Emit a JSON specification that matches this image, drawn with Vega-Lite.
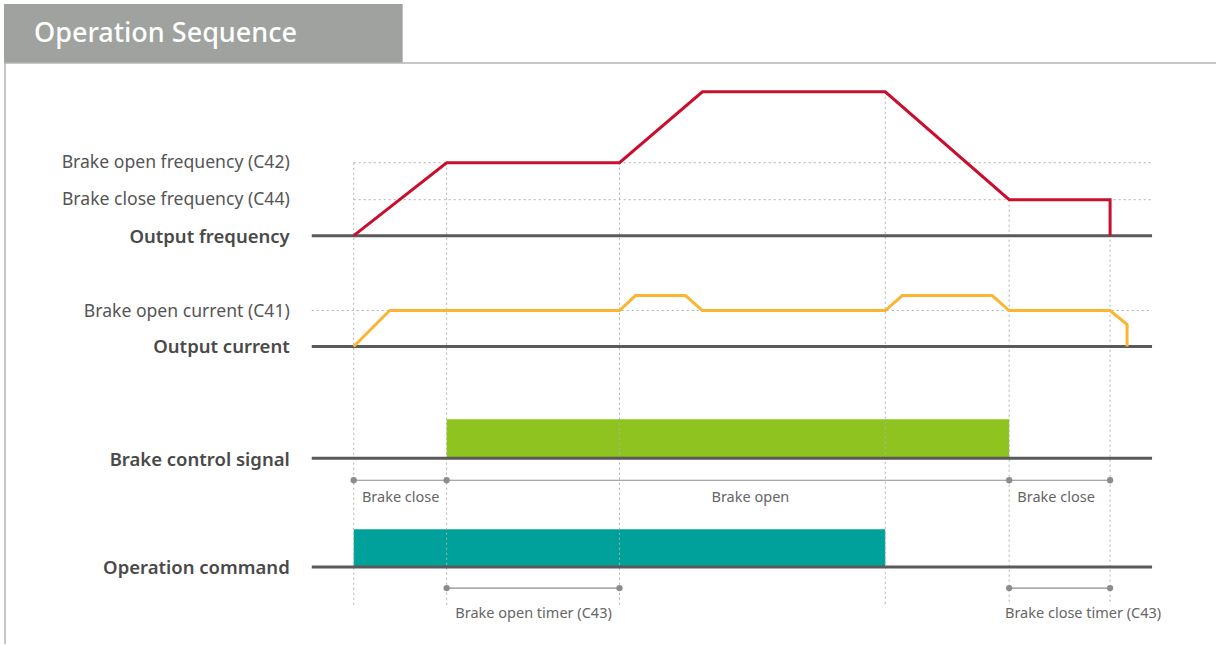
{
  "$schema": "https://vega.github.io/schema/vega-lite/v6.json",
  "width": 1217,
  "height": 645,
  "autosize": {"type": "fit", "contains": "padding"},
  "padding": 0,
  "background": "white",
  "view": {"stroke": null},
  "config": {"axis": {"disable": true}},
  "datasets": {
    "rects": [
      {"name": "header", "x": 4, "x2": 403, "y": 4, "y2": 63, "c": "#a0a2a0"},
      {"name": "Brake control signal", "x": 447, "x2": 1010, "y": 420, "y2": 458, "c": "#8fc31f"},
      {"name": "Operation command", "x": 354, "x2": 886, "y": 530, "y2": 567, "c": "#00a19a"}
    ],
    "frame": [
      {"x": 4, "x2": 1217, "y": 63, "y2": 63},
      {"x": 5, "x2": 5, "y": 63, "y2": 645}
    ],
    "vdots": [
      {"x": 354, "y": 163, "y2": 606},
      {"x": 447, "y": 163, "y2": 606},
      {"x": 620, "y": 163, "y2": 606},
      {"x": 886, "y": 92, "y2": 606},
      {"x": 1010, "y": 200, "y2": 606},
      {"x": 1111, "y": 200, "y2": 606}
    ],
    "hdots": [
      {"x": 354, "x2": 1153, "y": 163},
      {"x": 354, "x2": 1153, "y": 200},
      {"x": 312, "x2": 1153, "y": 311}
    ],
    "baselines": [
      {"name": "Output frequency", "x": 312, "x2": 1153, "y": 236},
      {"name": "Output current", "x": 312, "x2": 1153, "y": 347},
      {"name": "Brake control signal", "x": 312, "x2": 1153, "y": 459},
      {"name": "Operation command", "x": 312, "x2": 1153, "y": 568}
    ],
    "freq": [
      {"i": 0, "x": 354, "y": 236},
      {"i": 1, "x": 447, "y": 163},
      {"i": 2, "x": 620, "y": 163},
      {"i": 3, "x": 703, "y": 92},
      {"i": 4, "x": 886, "y": 92},
      {"i": 5, "x": 1010, "y": 200},
      {"i": 6, "x": 1111, "y": 200},
      {"i": 7, "x": 1111, "y": 236}
    ],
    "current": [
      {"i": 0, "x": 354, "y": 347},
      {"i": 1, "x": 390, "y": 311},
      {"i": 2, "x": 620, "y": 311},
      {"i": 3, "x": 636, "y": 296},
      {"i": 4, "x": 686, "y": 296},
      {"i": 5, "x": 703, "y": 311},
      {"i": 6, "x": 886, "y": 311},
      {"i": 7, "x": 903, "y": 296},
      {"i": 8, "x": 993, "y": 296},
      {"i": 9, "x": 1010, "y": 311},
      {"i": 10, "x": 1111, "y": 311},
      {"i": 11, "x": 1128, "y": 325},
      {"i": 12, "x": 1128, "y": 347}
    ],
    "spans": [
      {"x": 354, "x2": 1111, "y": 481},
      {"x": 447, "x2": 620, "y": 589},
      {"x": 1010, "x2": 1111, "y": 589}
    ],
    "dots": [
      {"x": 354, "y": 481},
      {"x": 447, "y": 481},
      {"x": 1010, "y": 481},
      {"x": 1111, "y": 481},
      {"x": 447, "y": 589},
      {"x": 620, "y": 589},
      {"x": 1010, "y": 589},
      {"x": 1111, "y": 589}
    ],
    "leftLabels": [
      {"t": "Brake open frequency (C42)", "x": 290, "y": 163},
      {"t": "Brake close frequency (C44)", "x": 290, "y": 200},
      {"t": "Brake open current (C41)", "x": 290, "y": 312}
    ],
    "boldLabels": [
      {"t": "Output frequency", "x": 290, "y": 237},
      {"t": "Output current", "x": 290, "y": 348},
      {"t": "Brake control signal", "x": 290, "y": 461},
      {"t": "Operation command", "x": 290, "y": 569}
    ],
    "smallLabels": [
      {"t": "Brake close", "x": 401, "y": 499},
      {"t": "Brake open", "x": 751, "y": 499},
      {"t": "Brake close", "x": 1057, "y": 499},
      {"t": "Brake open timer (C43)", "x": 534, "y": 615},
      {"t": "Brake close timer (C43)", "x": 1084, "y": 615}
    ],
    "title": [
      {"t": "Operation Sequence", "x": 34, "y": 34}
    ]
  },
  "encoding": {
    "x": {"type": "quantitative", "scale": {"domain": [0, 1217], "nice": false, "zero": false}, "axis": null},
    "y": {"type": "quantitative", "scale": {"domain": [0, 645], "nice": false, "zero": false, "reverse": true}, "axis": null}
  },
  "layer": [
    {
      "data": {"name": "rects"},
      "mark": {"type": "rect"},
      "encoding": {
        "x": {"field": "x", "type": "quantitative"},
        "x2": {"field": "x2"},
        "y": {"field": "y", "type": "quantitative"},
        "y2": {"field": "y2"},
        "color": {"field": "c", "type": "nominal", "scale": null}
      }
    },
    {
      "data": {"name": "frame"},
      "mark": {"type": "rule", "color": "#b4b4b4", "strokeWidth": 1.5},
      "encoding": {
        "x": {"field": "x", "type": "quantitative"},
        "x2": {"field": "x2"},
        "y": {"field": "y", "type": "quantitative"},
        "y2": {"field": "y2"}
      }
    },
    {
      "data": {"name": "vdots"},
      "mark": {"type": "rule", "color": "#b0b0b0", "strokeWidth": 1, "strokeDash": [2, 3]},
      "encoding": {
        "x": {"field": "x", "type": "quantitative"},
        "y": {"field": "y", "type": "quantitative"},
        "y2": {"field": "y2"}
      }
    },
    {
      "data": {"name": "hdots"},
      "mark": {"type": "rule", "color": "#b0b0b0", "strokeWidth": 1, "strokeDash": [2, 3]},
      "encoding": {
        "x": {"field": "x", "type": "quantitative"},
        "x2": {"field": "x2"},
        "y": {"field": "y", "type": "quantitative"}
      }
    },
    {
      "data": {"name": "baselines"},
      "mark": {"type": "rule", "color": "#5a5a5a", "strokeWidth": 3},
      "encoding": {
        "x": {"field": "x", "type": "quantitative"},
        "x2": {"field": "x2"},
        "y": {"field": "y", "type": "quantitative"}
      }
    },
    {
      "data": {"name": "freq"},
      "mark": {"type": "line", "color": "#c8102e", "strokeWidth": 3, "strokeJoin": "miter"},
      "encoding": {
        "x": {"field": "x", "type": "quantitative"},
        "y": {"field": "y", "type": "quantitative"},
        "order": {"field": "i", "type": "quantitative"}
      }
    },
    {
      "data": {"name": "current"},
      "mark": {"type": "line", "color": "#fbb532", "strokeWidth": 3, "strokeJoin": "miter"},
      "encoding": {
        "x": {"field": "x", "type": "quantitative"},
        "y": {"field": "y", "type": "quantitative"},
        "order": {"field": "i", "type": "quantitative"}
      }
    },
    {
      "data": {"name": "spans"},
      "mark": {"type": "rule", "color": "#8c8c8c", "strokeWidth": 1.2},
      "encoding": {
        "x": {"field": "x", "type": "quantitative"},
        "x2": {"field": "x2"},
        "y": {"field": "y", "type": "quantitative"}
      }
    },
    {
      "data": {"name": "dots"},
      "mark": {"type": "circle", "color": "#8c8c8c", "opacity": 1, "size": 40},
      "encoding": {
        "x": {"field": "x", "type": "quantitative"},
        "y": {"field": "y", "type": "quantitative"}
      }
    },
    {
      "data": {"name": "leftLabels"},
      "mark": {"type": "text", "align": "right", "baseline": "middle", "font": "Noto Sans", "fontSize": 17.6, "color": "#555555"},
      "encoding": {
        "x": {"field": "x", "type": "quantitative"},
        "y": {"field": "y", "type": "quantitative"},
        "text": {"field": "t"}
      }
    },
    {
      "data": {"name": "boldLabels"},
      "mark": {"type": "text", "align": "right", "baseline": "middle", "font": "Noto Sans", "fontSize": 18.5, "fontWeight": 600, "color": "#4a4a4a"},
      "encoding": {
        "x": {"field": "x", "type": "quantitative"},
        "y": {"field": "y", "type": "quantitative"},
        "text": {"field": "t"}
      }
    },
    {
      "data": {"name": "smallLabels"},
      "mark": {"type": "text", "align": "center", "baseline": "middle", "font": "Noto Sans", "fontSize": 14.5, "color": "#666666"},
      "encoding": {
        "x": {"field": "x", "type": "quantitative"},
        "y": {"field": "y", "type": "quantitative"},
        "text": {"field": "t"}
      }
    },
    {
      "data": {"name": "title"},
      "mark": {"type": "text", "align": "left", "baseline": "middle", "font": "Noto Sans", "fontSize": 27, "fontWeight": 500, "color": "white"},
      "encoding": {
        "x": {"field": "x", "type": "quantitative"},
        "y": {"field": "y", "type": "quantitative"},
        "text": {"field": "t"}
      }
    }
  ]
}
